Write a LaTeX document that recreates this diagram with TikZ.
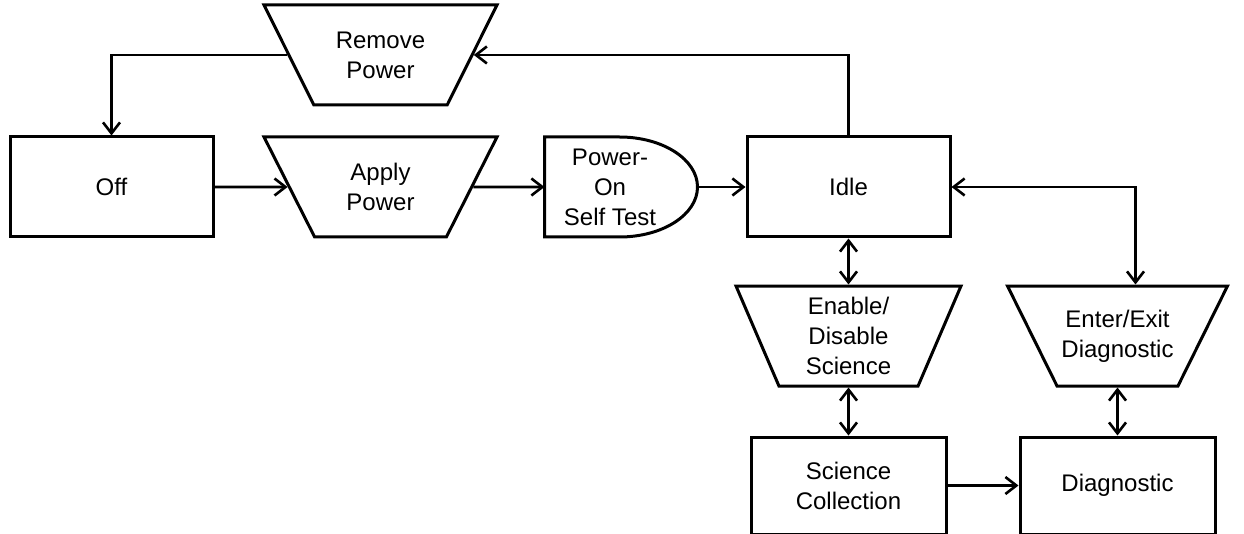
\documentclass[tikz,border=0pt]{standalone}
\usepackage{fontspec}
\setmainfont{Liberation Sans}
\usetikzlibrary{shapes,arrows.meta,positioning}

\begin{document}
\begin{tikzpicture}
                [
                    x=1pt, y=-1pt,
                    font=\fontsize{24}{30}\selectfont,
                    statebox/.style={rectangle, draw=black, line width=3pt, minimum width=203pt, minimum height=100pt, align=center},
                    transition/.style={trapezium, trapezium angle=47, shape border rotate=180, trapezium stretches body, draw=black, line width=3pt, minimum width=233pt, minimum height=100pt, align=center},
                    testnode/.style={rectangle, minimum width=153pt, minimum height=100pt, inner sep=0pt, outer sep=0pt},
                    link/.style={line width=2.6pt, -{Straight Barb[length=11pt,width=17pt]}},
                    twoway/.style={line width=2.6pt, {Straight Barb[length=11pt,width=17pt]}-{Straight Barb[length=11pt,width=17pt]}}
                ]
                \useasboundingbox (0,0) rectangle (1244,534);

                \node [statebox] (off) at (111.5,187) {Off};
                \node [transition] (apply) at (380.5,187) {Apply\\Power};
                \node [transition] (remove) [above=29pt of apply] {Remove\\Power};
                \node [testnode, label={[align=center, xshift=-11pt]center:Power-\\On\\Self Test}] (post) at (621,187) {};
                \node [statebox] (idle) at (848.5,187) {Idle};
                \node [transition, trapezium angle=63, minimum width=225pt] (enable) [below=46pt of idle] {Enable/\\Disable\\Science};
                \node [statebox, minimum width=195pt, minimum height=97pt] (science) [below=48pt of enable] {Science\\Collection};
                \node [statebox, minimum width=195pt, minimum height=97pt] (diag) [right=71pt of science] {Diagnostic};
                \node [transition, trapezium angle=50, minimum width=220pt] (enter) [above=48pt of diag] {Enter/Exit\\Diagnostic};

                % self test outline, flat on the left and rounded on the right
                \draw [line width=3pt] (post.north west) -- ([xshift=-78pt]post.north east)
                    arc [start angle=90, end angle=-90, x radius=78pt, y radius=50pt]
                    -- (post.south west) -- cycle;

                \draw [link] (off) -- (apply);
                \draw [link] (apply) -- (post.west);
                \draw [link] (post.east) -- (idle);
                \draw [link] (idle.north) |- (remove);
                \draw [link] (remove) -| (off.north);

                \draw [twoway] (idle) -- (enable);
                \draw [twoway] (enable) -- (science);
                \draw [twoway] ([xshift=18pt]enter.north) |- (idle.east);
                \draw [twoway] (enter) -- (diag);
                \draw [link] (science) -- (diag);

            \end{tikzpicture}
\end{document}
